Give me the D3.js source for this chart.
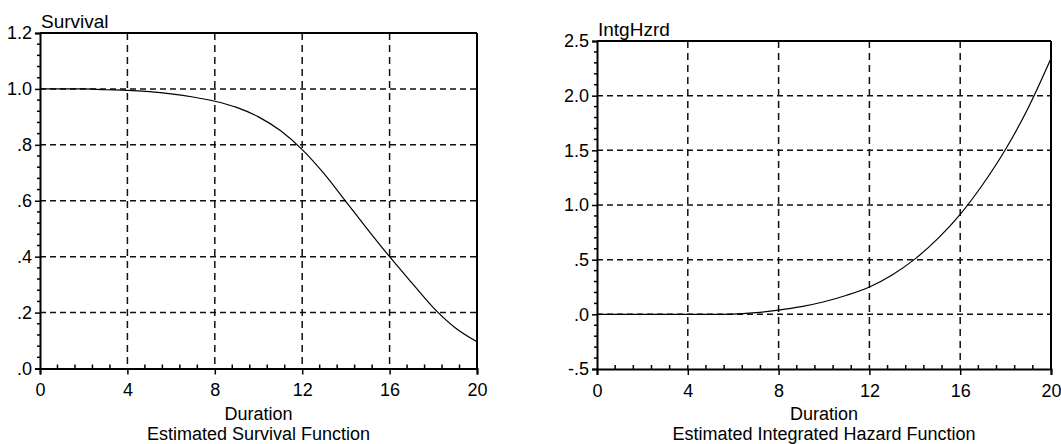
<!DOCTYPE html>
<html>
<head>
<meta charset="utf-8">
<script src="https://cdn.jsdelivr.net/npm/d3@7/dist/d3.min.js"></script>
<style>
  html, body { margin: 0; padding: 0; background: #fff; }
  svg { display: block; font-family: "Liberation Sans", Arial, sans-serif; }
</style>
</head>
<body>
<svg id="chart" width="1061" height="444"></svg>
<script>
// ---- data ----
const durations = [0, 1, 2, 3, 4, 5, 6, 7, 8, 9, 10, 11, 12, 13, 14, 15, 16, 17, 18, 19, 20];
const survival  = [1.000, 1.000, 1.000, 0.997, 0.995, 0.990, 0.982, 0.971, 0.956, 0.934, 0.900,
                   0.851, 0.783, 0.697, 0.597, 0.497, 0.400, 0.308, 0.218, 0.146, 0.096];
const hazard    = [0, 0, 0, 0, 0, 0, 0.002, 0.015, 0.038, 0.070, 0.115,
                   0.175, 0.250, 0.360, 0.505, 0.690, 0.915, 1.190, 1.510, 1.890, 2.340];
const xTicks = [0, 4, 8, 12, 16, 20];
const survTicks = [0, 0.2, 0.4, 0.6, 0.8, 1.0, 1.2];
const hazTicks = [-0.5, 0, 0.5, 1.0, 1.5, 2.0, 2.5];
const xTitle = "Duration";
const panelTitles = ["Estimated Survival Function", "Estimated Integrated Hazard Function"];
const yTitles = ["Survival", "IntgHzrd"];

const svg = d3.select("#chart");

function fmt(v) {
  let s = Math.abs(v).toFixed(1).replace(/^0\./, ".");
  return (v < 0 ? "-" : "") + s;
}

function panel(opts) {
  const { x0, x1, y0, y1, yDomain, yTicksArr, yMinorStep, values, yTitle, title, gridY } = opts;
  const g = svg.append("g");
  const x = d3.scaleLinear().domain([0, 20]).range([x0, x1]);
  const y = d3.scaleLinear().domain(yDomain).range([y1, y0]);

  // gridlines
  const vGrid = xTicks.filter(t => t > 0 && t < 20);
  g.selectAll(".vg").data(vGrid).enter().append("line")
    .attr("x1", d => x(d)).attr("x2", d => x(d))
    .attr("y1", y0).attr("y2", y1)
    .attr("stroke", "#111").attr("stroke-width", 1.5)
    .attr("stroke-dasharray", "7,5");
  g.selectAll(".hg").data(gridY).enter().append("line")
    .attr("x1", x0).attr("x2", x1)
    .attr("y1", d => y(d)).attr("y2", d => y(d))
    .attr("stroke", "#111").attr("stroke-width", 1.5)
    .attr("stroke-dasharray", "6,4");

  // frame top & right
  g.append("line").attr("x1", x0).attr("x2", x1).attr("y1", y0).attr("y2", y0)
    .attr("stroke", "#000").attr("stroke-width", 2);
  g.append("line").attr("x1", x1).attr("x2", x1).attr("y1", y0).attr("y2", y1)
    .attr("stroke", "#000").attr("stroke-width", 2);

  // y axis
  const yAxis = d3.axisLeft(y).tickValues(yTicksArr).tickFormat(fmt).tickSize(5).tickPadding(3);
  const ya = g.append("g").attr("transform", `translate(${x0},0)`).call(yAxis);
  ya.select(".domain").attr("stroke", "#000").attr("stroke-width", 2);
  ya.selectAll(".tick line").attr("stroke", "#000").attr("stroke-width", 1.5);
  ya.selectAll("text").attr("font-size", 18).attr("fill", "#000")
    .attr("font-family", "'Liberation Sans', Arial, sans-serif");
  // y minor ticks (outward)
  const yMinor = d3.range(yDomain[0], yDomain[1] + 1e-9, yMinorStep)
    .filter(v => !yTicksArr.some(t => Math.abs(t - v) < 1e-6));
  g.selectAll(".ym").data(yMinor).enter().append("line")
    .attr("x1", x0 - 3).attr("x2", x0)
    .attr("y1", d => y(d)).attr("y2", d => y(d))
    .attr("stroke", "#000").attr("stroke-width", 1.5);

  // x axis
  const xAxis = d3.axisBottom(x).tickValues(xTicks).tickFormat(d3.format("d")).tickSize(6).tickPadding(9);
  const xa = g.append("g").attr("transform", `translate(0,${y1})`).call(xAxis);
  xa.select(".domain").attr("stroke", "#000").attr("stroke-width", 2);
  xa.selectAll(".tick line").attr("stroke", "#000").attr("stroke-width", 1.5);
  xa.selectAll("text").attr("font-size", 18).attr("fill", "#000")
    .attr("font-family", "'Liberation Sans', Arial, sans-serif");
  // x minor ticks (inward)
  const xMinor = d3.range(0, 20.0001, 0.8).filter(v => !xTicks.some(t => Math.abs(t - v) < 1e-6));
  g.selectAll(".xm").data(xMinor).enter().append("line")
    .attr("x1", d => x(d)).attr("x2", d => x(d))
    .attr("y1", y1 - 4).attr("y2", y1)
    .attr("stroke", "#000").attr("stroke-width", 1.5);

  // curve
  const line = d3.line().x((d, i) => x(durations[i])).y(d => y(d)).curve(d3.curveMonotoneX);
  g.append("path").datum(values).attr("d", line)
    .attr("fill", "none").attr("stroke", "#000").attr("stroke-width", 1.2);

  // y title
  g.append("text").attr("x", x0 + 1).attr("y", y0 - 5)
    .attr("font-size", 19).attr("fill", "#000").text(yTitle);

  // x titles
  const cx = (x0 + x1) / 2;
  g.append("text").attr("x", cx).attr("y", 420).attr("text-anchor", "middle")
    .attr("font-size", 18).attr("fill", "#000").text(xTitle);
  g.append("text").attr("x", cx).attr("y", 440).attr("text-anchor", "middle")
    .attr("font-size", 18).attr("fill", "#000").text(title);
}

panel({
  x0: 40, x1: 477, y0: 33, y1: 368.5,
  yDomain: [0, 1.2], yTicksArr: survTicks, yMinorStep: 0.04,
  values: survival, yTitle: yTitles[0], title: panelTitles[0],
  gridY: [0.2, 0.4, 0.6, 0.8, 1.0]
});
panel({
  x0: 597, x1: 1051, y0: 41, y1: 369,
  yDomain: [-0.5, 2.5], yTicksArr: hazTicks, yMinorStep: 0.1,
  values: hazard, yTitle: yTitles[1], title: panelTitles[1],
  gridY: [0, 0.5, 1.0, 1.5, 2.0]
});
</script>
</body>
</html>
